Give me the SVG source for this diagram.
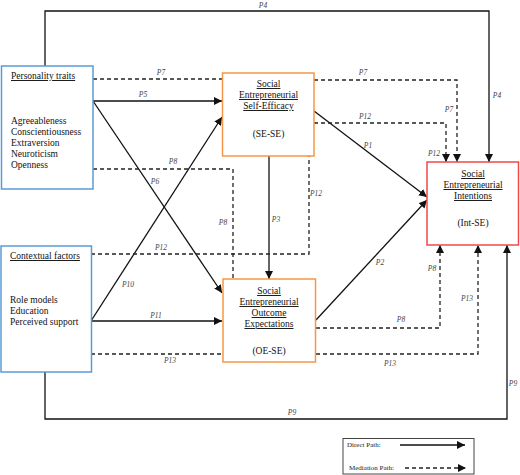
<svg xmlns="http://www.w3.org/2000/svg" width="520" height="475" viewBox="0 0 520 475" font-family="'Liberation Serif', 'DejaVu Serif', serif">
<style>
.box{fill:#fff;stroke-width:1.5}
.blue{stroke:#5b9bd5}
.orange{stroke:#f79646}
.red{stroke:#f04848}
.t{font-size:9.5px;fill:#111}
.u{text-decoration:underline}
.lbl{font-size:7.5px;font-style:italic;fill:#444;text-anchor:middle}
.s{fill:none;stroke:#111;stroke-width:1.3}
.d{fill:none;stroke:#222;stroke-width:1.3;stroke-dasharray:4 3}
.leg{font-size:7px;fill:#222}
</style>
<defs>
<marker id="ah" viewBox="0 0 10 10" refX="10" refY="5" markerWidth="8" markerHeight="8" markerUnits="userSpaceOnUse" orient="auto">
<path d="M0,0 L10,5 L0,10 z" fill="#111"/>
</marker>
</defs>
<rect width="520" height="475" fill="#fff"/>
<g id="connectors">
<polyline class="s" points="45,66 45,11 489,11 489,162" stroke="#333" marker-end="url(#ah)"/>
<polyline class="s" points="45,372 45,419 507,419 507,245" stroke="#333" marker-end="url(#ah)"/>
<line class="s" x1="93" y1="101" x2="222" y2="101" marker-end="url(#ah)"/>
<line class="s" x1="93" y1="101" x2="222" y2="293" marker-end="url(#ah)"/>
<line class="s" x1="91" y1="321" x2="222" y2="117" marker-end="url(#ah)"/>
<line class="s" x1="91" y1="321" x2="222" y2="321" marker-end="url(#ah)"/>
<line class="s" x1="269" y1="156" x2="269" y2="279" marker-end="url(#ah)"/>
<line class="s" x1="314" y1="111" x2="427" y2="197" marker-end="url(#ah)"/>
<line class="s" x1="316" y1="320" x2="427" y2="200" marker-end="url(#ah)"/>
<line class="d" x1="93" y1="79" x2="222" y2="79"/>
<polyline class="d" points="314,80 457,80 457,162" marker-end="url(#ah)"/>
<polyline class="d" points="93,169 233,169 233,279"/>
<polyline class="d" points="316,328 440,328 440,245" marker-end="url(#ah)"/>
<polyline class="d" points="91,254 309,254 309,156"/>
<polyline class="d" points="314,123 446,123 446,162" marker-end="url(#ah)"/>
<line class="d" x1="91" y1="354" x2="222" y2="354"/>
<polyline class="d" points="316,354 478,354 478,245" marker-end="url(#ah)"/>
</g>
<g id="labels">
<text class="lbl" x="263" y="8">P4</text>
<text class="lbl" x="497" y="98">P4</text>
<text class="lbl" x="161" y="75">P7</text>
<text class="lbl" x="363" y="75">P7</text>
<text class="lbl" x="449" y="112">P7</text>
<text class="lbl" x="143" y="97">P5</text>
<text class="lbl" x="365" y="119">P12</text>
<text class="lbl" x="434" y="156">P12</text>
<text class="lbl" x="368" y="148">P1</text>
<text class="lbl" x="316" y="196">P12</text>
<text class="lbl" x="173" y="164">P8</text>
<text class="lbl" x="155" y="184">P6</text>
<text class="lbl" x="223" y="225">P8</text>
<text class="lbl" x="161" y="250">P12</text>
<text class="lbl" x="128" y="287">P10</text>
<text class="lbl" x="276" y="222">P3</text>
<text class="lbl" x="380" y="265">P2</text>
<text class="lbl" x="432" y="271">P8</text>
<text class="lbl" x="467" y="301">P13</text>
<text class="lbl" x="156" y="318">P11</text>
<text class="lbl" x="401" y="322">P8</text>
<text class="lbl" x="170" y="363">P13</text>
<text class="lbl" x="390" y="366">P13</text>
<text class="lbl" x="292" y="415">P9</text>
<text class="lbl" x="513" y="386">P9</text>
</g>
<g id="personality">
<rect class="box blue" x="1.5" y="66" width="91.5" height="123"/>
<text class="t u" x="11" y="79">Personality traits</text>
<text class="t" x="11" y="124">Agreeableness</text>
<text class="t" x="11" y="135">Conscientiousness</text>
<text class="t" x="11" y="146">Extraversion</text>
<text class="t" x="11" y="157">Neuroticism</text>
<text class="t" x="11" y="168">Openness</text>
</g>
<g id="contextual">
<rect class="box blue" x="1" y="246" width="90.5" height="126"/>
<text class="t u" x="10" y="259">Contextual factors</text>
<text class="t" x="10" y="303">Role models</text>
<text class="t" x="10" y="314">Education</text>
<text class="t" x="10" y="325">Perceived support</text>
</g>
<g id="se-se">
<rect class="box orange" x="222.5" y="73" width="91.5" height="83"/>
<text class="t u" x="268.5" y="87" text-anchor="middle">Social</text>
<text class="t u" x="268.5" y="98" text-anchor="middle">Entrepreneurial</text>
<text class="t u" x="268.5" y="109" text-anchor="middle">Self-Efficacy</text>
<text class="t" x="268.5" y="137" text-anchor="middle">(SE-SE)</text>
</g>
<g id="oe-se">
<rect class="box orange" x="223" y="279" width="92.5" height="83"/>
<text class="t u" x="269" y="294" text-anchor="middle">Social</text>
<text class="t u" x="269" y="305" text-anchor="middle">Entrepreneurial</text>
<text class="t u" x="269" y="316" text-anchor="middle">Outcome</text>
<text class="t u" x="269" y="327" text-anchor="middle">Expectations</text>
<text class="t" x="269" y="354" text-anchor="middle">(OE-SE)</text>
</g>
<g id="int-se">
<rect class="box red" x="427" y="162" width="91.5" height="83"/>
<text class="t u" x="473" y="177" text-anchor="middle">Social</text>
<text class="t u" x="473" y="188" text-anchor="middle">Entrepreneurial</text>
<text class="t u" x="473" y="199" text-anchor="middle">Intentions</text>
<text class="t" x="473" y="226" text-anchor="middle">(Int-SE)</text>
</g>
<g id="legend">
<rect x="343" y="438.5" width="131" height="35.5" fill="#fff" stroke="#444" stroke-width="1"/>
<text class="leg" x="347" y="447">Direct Path:</text>
<line class="s" x1="400" y1="445" x2="465" y2="445" marker-end="url(#ah)"/>
<text class="leg" x="349" y="470">Mediation Path:</text>
<line class="d" x1="405" y1="468" x2="466" y2="468" marker-end="url(#ah)"/>
</g>
</svg>
